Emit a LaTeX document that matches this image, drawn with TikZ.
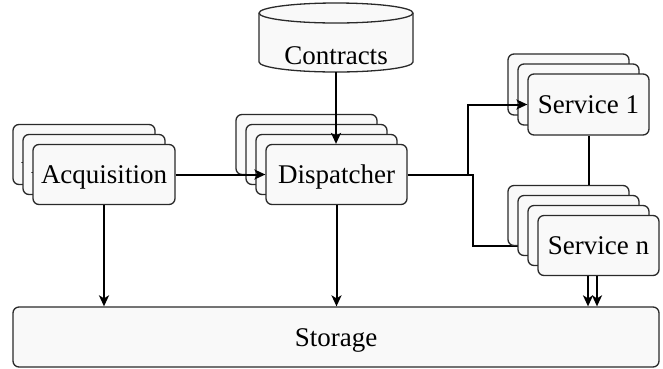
\documentclass[tikz,border=0pt]{standalone}
\usepackage{fontspec}
\setmainfont{Liberation Serif}
\usetikzlibrary{arrows.meta}
\pgfdeclarelayer{bg}
\pgfsetlayers{bg,main}
\definecolor{boxfill}{HTML}{F9F9F9}
\definecolor{boxline}{HTML}{2A2A2A}
\tikzset{
  card/.style={draw=boxline, fill=boxfill, line width=1.3pt, rounded corners=6pt,
    font=\fontsize{27}{30}\selectfont, text height=18pt, text depth=0pt, inner sep=0pt},
  link/.style={line width=2pt, draw=black},
  arrow/.style={link, -{Stealth[length=11pt,width=10pt,inset=3pt]}},
}
\begin{document}
\begin{tikzpicture}[x=1pt,y=-1pt]
\useasboundingbox (0,0) rectangle (663,368);

% stacked processing stages (back copies first, front copy = index 1)
\foreach \i in {3,2,1}
  \node[card, minimum width=142pt, minimum height=60pt] (acq\i)
    at ({104-10*(\i-1)},{174.5-10*(\i-1)}) {Acquisition};
\foreach \i in {4,3,2}
  \node[card, minimum width=141pt, minimum height=60pt] (disp\i)
    at ({336.5-10*(\i-1)},{174.5-10*(\i-1)}) {};
\node[card, minimum width=141pt, minimum height=60pt] (disp1) at (336.5,174.5) {Dispatcher};
\foreach \i in {3,2}
  \node[card, minimum width=121pt, minimum height=61pt] (srvA\i)
    at ({588.5-10*(\i-1)},{104.5-10*(\i-1)}) {};
\node[card, minimum width=121pt, minimum height=61pt] (srvA1) at (588.5,104.5) {Service 1};
\foreach \i in {4,3,2}
  \node[card, minimum width=121pt, minimum height=60pt] (srvN\i)
    at ({598.5-10*(\i-1)},{245.5-10*(\i-1)}) {};
\node[card, minimum width=121pt, minimum height=60pt] (srvN1) at (598.5,245.5) {Service n};

% storage
\node[card, minimum width=646pt, minimum height=60pt] (store) at (336,337) {Storage};

% contracts database
\draw[draw=boxline, fill=boxfill, line width=1.3pt]
  (259,13) -- (259,62) arc[start angle=180, end angle=360, x radius=77pt, y radius=10pt]
  -- (413,13) arc[start angle=0, end angle=180, x radius=77pt, y radius=10pt] -- cycle;
\draw[draw=boxline, line width=1.3pt]
  (259,13) arc[start angle=180, end angle=360, x radius=77pt, y radius=10pt];
\node[font=\fontsize{27}{30}\selectfont, inner sep=0pt] (contracts) at (336,56) {Contracts};
\coordinate (cylbot) at (336,72);

% connectors
\draw[arrow] (cylbot) -- (cylbot |- disp1.north);
\draw[arrow] (acq1.east) -- (acq1.east -| disp1.west);
\draw[arrow] (disp1.east) -- ++(60,0) |- (srvA1.west);
\begin{pgfonlayer}{bg}
  \draw[link] (disp1.east) -- ++(65,0) |- (srvN1.west);
\end{pgfonlayer}
\draw[link] (srvA1.south) -- (srvA1.south |- srvN4.north);
\draw[arrow] (acq1.south) -- (acq1.south |- store.north);
\draw[arrow] (disp1.south) -- (disp1.south |- store.north);
\draw[arrow] ([xshift=-10.5pt]srvN1.south) -- ([xshift=-10.5pt]srvN1.south |- store.north);
\draw[arrow] ([xshift=-1.5pt]srvN1.south) -- ([xshift=-1.5pt]srvN1.south |- store.north);
\end{tikzpicture}
\end{document}
